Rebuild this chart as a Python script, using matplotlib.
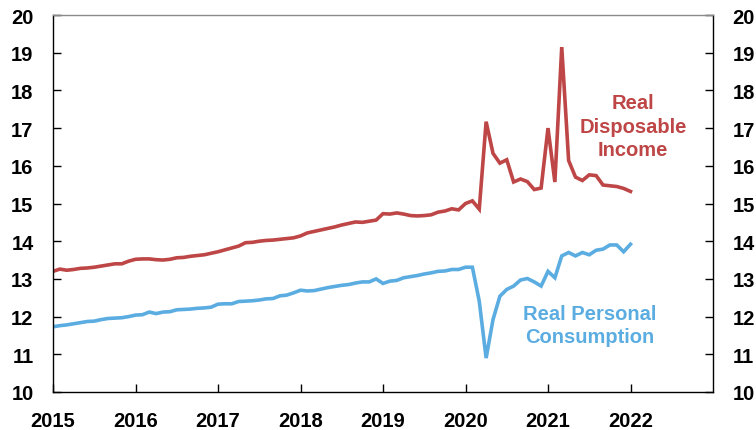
import matplotlib
matplotlib.use("Agg")
import matplotlib.pyplot as plt
import numpy as np

plt.rcParams['font.family'] = ['Liberation Sans', 'DejaVu Sans']

income = [
    13.20, 13.26, 13.23, 13.25, 13.28, 13.29, 13.31, 13.34, 13.37, 13.40, 13.40, 13.47,
    13.52, 13.53, 13.53, 13.51, 13.50, 13.52, 13.56, 13.57, 13.60, 13.62, 13.64, 13.68,
    13.72, 13.77, 13.82, 13.87, 13.96, 13.97, 14.00, 14.02, 14.03, 14.05, 14.07, 14.09,
    14.14, 14.22, 14.26, 14.30, 14.34, 14.38, 14.43, 14.47, 14.51, 14.50, 14.53, 14.56,
    14.73, 14.72, 14.75, 14.72, 14.68, 14.67, 14.68, 14.70, 14.77, 14.80, 14.86, 14.83,
    15.00, 15.07, 14.85, 17.17, 16.33, 16.07, 16.16, 15.57, 15.65, 15.58, 15.37, 15.41,
    17.00, 15.57, 19.15, 16.14, 15.70, 15.61, 15.76, 15.74, 15.49, 15.47, 15.45, 15.40,
    15.32,
]
consumption = [
    11.73, 11.76, 11.78, 11.81, 11.84, 11.87, 11.88, 11.92, 11.95, 11.96, 11.97, 12.00,
    12.04, 12.05, 12.12, 12.08, 12.12, 12.13, 12.18, 12.19, 12.20, 12.22, 12.23, 12.25,
    12.33, 12.34, 12.34, 12.40, 12.41, 12.42, 12.44, 12.47, 12.48, 12.55, 12.57, 12.63,
    12.70, 12.68, 12.69, 12.73, 12.77, 12.80, 12.83, 12.85, 12.89, 12.92, 12.92, 13.00,
    12.88, 12.94, 12.96, 13.03, 13.06, 13.09, 13.13, 13.16, 13.20, 13.21, 13.25, 13.25,
    13.31, 13.31, 12.41, 10.90, 11.92, 12.54, 12.72, 12.81, 12.97, 13.01, 12.92, 12.81,
    13.20, 13.03, 13.61, 13.70, 13.61, 13.70, 13.64, 13.76, 13.79, 13.90, 13.90, 13.72,
    13.92,
]
start_year = 2015
x_ticks = [2015, 2016, 2017, 2018, 2019, 2020, 2021, 2022]
y_ticks = [10, 11, 12, 13, 14, 15, 16, 17, 18, 19, 20]

dates = start_year + np.arange(len(income)) / 12.0

red = '#BE4646'
blue = '#5BADE1'

fig = plt.figure(figsize=(7.56, 4.31), dpi=100)
ax = fig.add_axes([53/756, 1 - 393/431, (713-53)/756, (393-16)/431])

ax.plot(dates, income, color=red, lw=2.6, solid_joinstyle='miter')
ax.plot(dates, consumption, color=blue, lw=2.6, solid_joinstyle='miter')

ax.set_xlim(2015, 2023)
ax.set_ylim(10, 20)
ax.set_xticks(x_ticks)
ax.set_yticks(y_ticks)
ax.tick_params(axis='both', direction='in', length=6, width=1, labelsize=14.5, colors='black')
ax.tick_params(axis='y', left=True, right=True, labelright=True)
ax.tick_params(axis='x', pad=14)
for t in ax.yaxis.get_major_ticks():
    t.set_pad(14)
for lbl in ax.get_xticklabels() + ax.get_yticklabels():
    lbl.set_fontweight('bold')
for t in ax.yaxis.get_major_ticks():
    t.label2.set_fontweight('bold')

for s in ['left', 'right', 'bottom']:
    ax.spines[s].set_color('black')
    ax.spines[s].set_linewidth(1)
ax.spines['top'].set_color('#8a8a8a')
ax.spines['top'].set_linewidth(1)

ax.text(2022.03, 17.05, 'Real\nDisposable\nIncome', color=red, fontsize=14.5,
        fontweight='bold', ha='center', va='center', linespacing=1.3)
ax.text(2021.51, 11.78, 'Real Personal\nConsumption', color=blue, fontsize=14.5,
        fontweight='bold', ha='center', va='center', linespacing=1.3)

fig.savefig('out.png', dpi=100)
